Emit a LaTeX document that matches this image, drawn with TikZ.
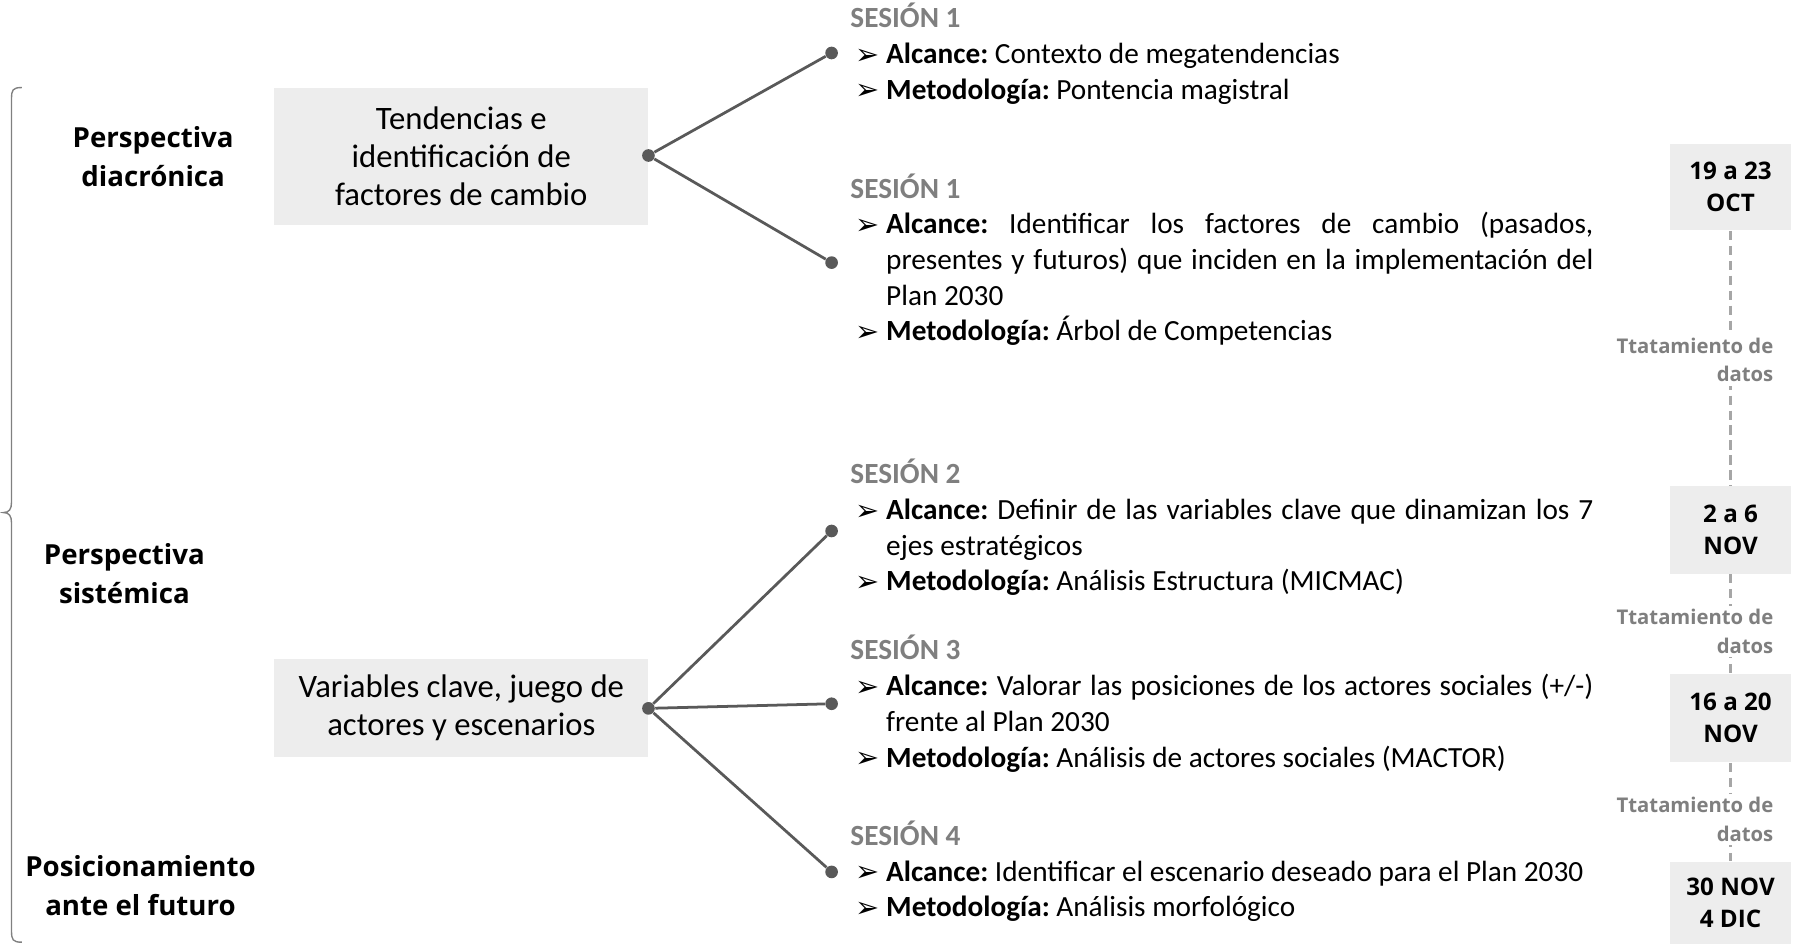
\documentclass[tikz,border=0pt]{standalone}
\usepackage{fontspec}
\setmainfont{Carlito}
\newfontfamily\osfont{Open Sans}
\newfontfamily\djfont{DejaVu Sans}
\definecolor{boxgray}{HTML}{EDEDED}
\definecolor{linegray}{HTML}{595959}
\definecolor{headgray}{HTML}{7F7F7F}
\definecolor{dashgray}{HTML}{A6A6A6}
\definecolor{bracegray}{HTML}{808080}
\newcommand{\sesion}[1]{\leavevmode{\color{headgray}\bfseries #1}\par}
\newcommand{\itm}{\hangindent=15.5pt\hangafter=1\noindent\makebox[15.5pt][l]{\hspace{2pt}\raisebox{-0.3pt}{\djfont\fontsize{12.5}{12.5}\selectfont ➢}}}
\newcommand{\sesbox}[1]{\begin{minipage}[t]{322.5pt}\frenchspacing\fontsize{12.7}{15.5}\selectfont\setlength{\parskip}{0pt}\setlength{\parindent}{0pt}#1\end{minipage}}
\begin{document}
\begin{tikzpicture}[x=0.5pt,y=-0.5pt,
  lbl/.style={font=\osfont\bfseries\fontsize{12}{17}\selectfont, align=center, inner sep=0},
  topic/.style={fill=boxgray, minimum width=162.5pt, align=center, inner sep=0, font=\fontsize{14.2}{16.5}\selectfont},
  datebox/.style={fill=boxgray, minimum width=52.5pt, align=center, inner sep=0, font=\osfont\bfseries\fontsize{10.5}{14}\selectfont},
  trat/.style={fill=white, align=right, inner sep=1.5pt, text=headgray, font=\osfont\bfseries\fontsize{8.8}{12.5}\selectfont},
  dot/.style={circle, fill=linegray, inner sep=0, minimum size=5.5pt},
  conn/.style={draw=linegray, line width=1.2pt},
  dline/.style={draw=dashgray, line width=1pt, dash pattern=on 4pt off 2.5pt},
  ses/.style={anchor=base west, inner sep=0}]
\useasboundingbox (0,0) rectangle (1568,820);

% brace
\draw[bracegray, line width=0.6pt] (19,76) .. controls (11,76) and (10,78) .. (10,86) -- (10,436) .. controls (10,442) and (8,445) .. (3,445) .. controls (8,445) and (10,448) .. (10,454) -- (10,808) .. controls (10,816) and (11,818) .. (19,818);

% left labels
\node[lbl] (p1) at (133,136) {Perspectiva\\diacrónica};
\node[lbl] (p2) at (108,498) {Perspectiva\\sistémica};
\node[lbl] (p3) at (122,769) {Posicionamiento\\ante el futuro};

% topic boxes
\node[topic, minimum height=59.5pt] (t1) at (400.5,135.5) {Tendencias e\\identificación de\\factores de cambio};
\node[topic, minimum height=42.5pt] (t2) at (400.5,614.5) {Variables clave, juego de\\actores y escenarios};

% dots
\node[dot] (s1) at (563,135) {};
\node[dot] (s2) at (563,615) {};
\node[dot] (e1) at (722,46) {};
\node[dot] (e2) at (722,228) {};
\node[dot] (e3) at (722,461) {};
\node[dot] (e4) at (722,611) {};
\node[dot] (e5) at (722,757) {};
\draw[conn] (s1) -- (e1);
\draw[conn] (s1) -- (e2);
\draw[conn] (s2) -- (e3);
\draw[conn] (s2) -- (e4);
\draw[conn] (s2) -- (e5);

% sessions
\node[ses] (ss1) at (738,24) {\sesbox{\sesion{SESIÓN 1}
\itm\textbf{Alcance:} Contexto de megatendencias\par
\itm\textbf{Metodología:} Pontencia magistral\par}};
\node[ses] (ss2) at (738,172) {\sesbox{\sesion{SESIÓN 1}
\itm\textbf{Alcance:} Identificar los factores de cambio (pasados,\linebreak presentes y futuros) que inciden en la implementación del\linebreak Plan 2030\par
\itm\textbf{Metodología:} Árbol de Competencias\par}};
\node[ses] (ss3) at (738,420) {\sesbox{\sesion{SESIÓN 2}
\itm\textbf{Alcance:} Definir de las variables clave que dinamizan los 7\linebreak ejes estratégicos\par
\itm\textbf{Metodología:} Análisis Estructura (MICMAC)\par}};
\node[ses] (ss4) at (738,573) {\sesbox{\sesion{SESIÓN 3}
\itm\textbf{Alcance:} Valorar las posiciones de los actores sociales (+/-)\linebreak frente al Plan 2030\par
\itm\textbf{Metodología:} Análisis de actores sociales (MACTOR)\par}};
\node[ses] (ss5) at (738,734) {\sesbox{\sesion{SESIÓN 4}
\itm\textbf{Alcance:} Identificar el escenario deseado para el Plan 2030\par
\itm\textbf{Metodología:} Análisis morfológico\par}};

% date boxes
\node[datebox, minimum height=37.5pt] (d1) at (1502.5,162.5) {19 a 23\\OCT};
\node[datebox, minimum height=38pt] (d2) at (1502.5,460) {2 a 6\\NOV};
\node[datebox, minimum height=38.5pt] (d3) at (1502.5,623.5) {16 a 20\\NOV};
\node[datebox, minimum height=36pt] (d4) at (1502.5,784) {30 NOV\\4 DIC};

\draw[dline] (d1.south) -- (d2.north);
\draw[dline] (d2.south) -- (d3.north);
\draw[dline] (d3.south) -- (d4.north);

\node[trat, anchor=east] (tr1) at (1543,312.5) {Ttatamiento de\\datos};
\node[trat, anchor=east] (tr2) at (1543,548.5) {Ttatamiento de\\datos};
\node[trat, anchor=east] (tr3) at (1543,711.5) {Ttatamiento de\\datos};
\end{tikzpicture}
\end{document}
